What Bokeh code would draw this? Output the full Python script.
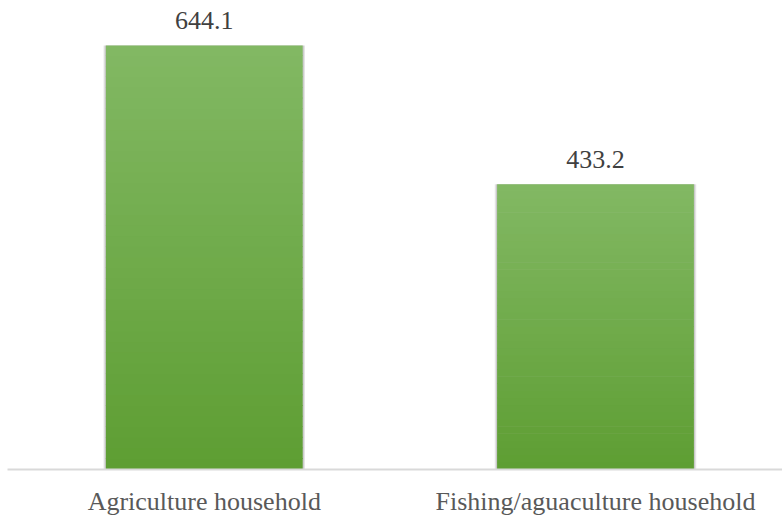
import numpy as np
from bokeh.plotting import figure
from bokeh.models import Range1d, FixedTicker, ColumnDataSource
from bokeh.core.properties import value
from bokeh.embed import file_html
from bokeh.resources import INLINE

categories = ["Agriculture household", "Fishing/aguaculture household"]
values = [644.1, 433.2]
value_labels = ["644.1", "433.2"]

xpos = [i + 0.5 for i in range(len(categories))]

SERIF = "'Liberation Serif', 'Times New Roman', serif"

p = figure(width=782, height=518, output_backend="svg", toolbar_location=None,
           x_range=Range1d(-0.003, 1.978), y_range=Range1d(0, 712.3),
           min_border_left=7, min_border_right=0, min_border_top=0, min_border_bottom=48)
p.outline_line_color = None
p.xgrid.visible = False
p.ygrid.visible = False
p.yaxis.visible = False
p.background_fill_color = "white"
p.border_fill_color = "white"

bar_w = 0.503

# soft shadow
p.vbar(x=xpos, top=values, bottom=0, width=bar_w + 0.012, fill_color="#000000",
       fill_alpha=0.10, line_color=None)
p.vbar(x=xpos, top=values, bottom=0, width=bar_w + 0.006, fill_color="#000000",
       fill_alpha=0.12, line_color=None)

# gradient fill drawn as thin bands proportional to each bar's value
n = 40
c_bot = np.array([0x5e, 0x9e, 0x33])
c_top = np.array([0x83, 0xb9, 0x64])
xs, bots, tops, cols = [], [], [], []
for x, v in zip(xpos, values):
    for i in range(n):
        t = (i + 0.5) / n
        c = (c_bot + (c_top - c_bot) * t).astype(int)
        xs.append(x)
        bots.append(v * i / n)
        tops.append(min(v, v * (i + 1) / n + v * 0.002))
        cols.append("#%02x%02x%02x" % tuple(c))
p.vbar(x=xs, bottom=bots, top=tops, width=bar_w, fill_color=cols, line_color=None)

src = ColumnDataSource(dict(x=xpos, y=values, t=value_labels))
p.text(x="x", y="y", text="t", source=src, text_align="center", text_baseline="alphabetic",
       y_offset=-25, text_font=value(SERIF), text_font_size="26px",
       text_color="#404040")

p.xaxis.ticker = FixedTicker(ticks=xpos)
p.xaxis.major_label_overrides = {x: c for x, c in zip(xpos, categories)}
p.xaxis.major_tick_line_color = None
p.xaxis.minor_tick_line_color = None
p.xaxis.axis_line_color = "#d9d9d9"
p.xaxis.axis_line_width = 2
p.xaxis.major_label_standoff = 11
p.xaxis.major_label_text_font = SERIF
p.xaxis.major_label_text_font_size = "26px"
p.xaxis.major_label_text_color = "#595959"

open("out.html", "w").write(file_html(p, INLINE))
